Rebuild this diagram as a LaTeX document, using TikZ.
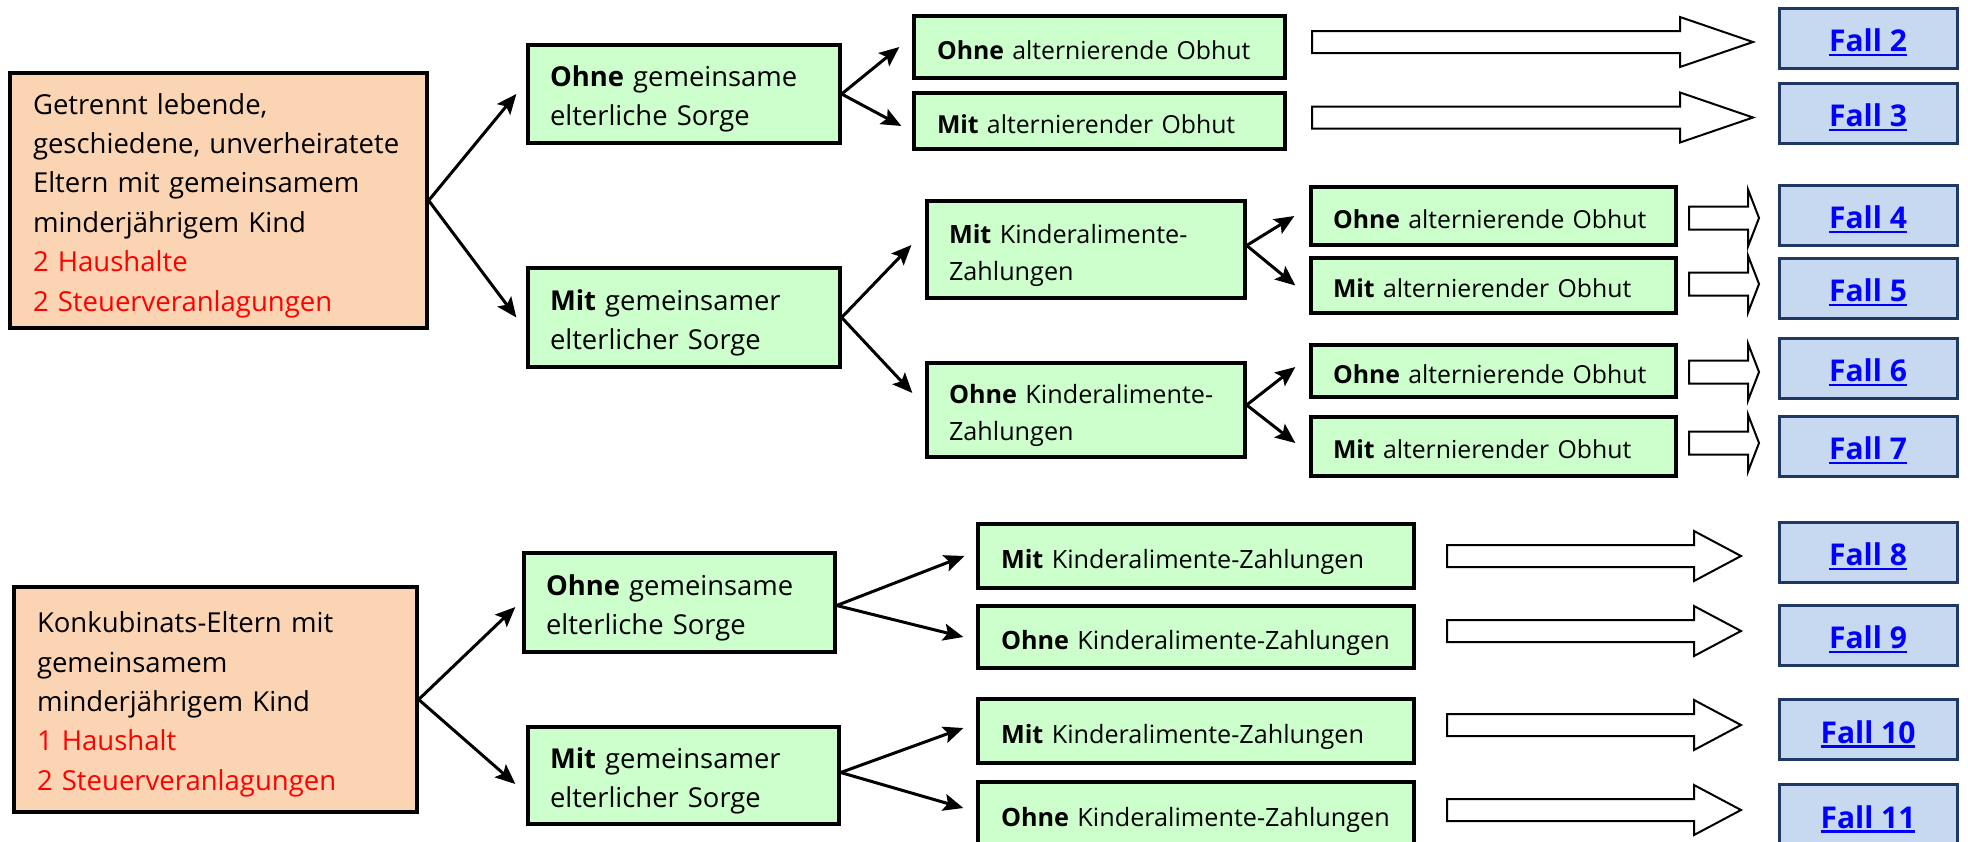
\documentclass[tikz,border=0pt]{standalone}
\usepackage{fontspec}
\setmainfont{Open Sans}
\usetikzlibrary{arrows.meta}
\definecolor{peach}{HTML}{FBD4B4}
\definecolor{mint}{HTML}{CCFFCC}
\definecolor{fallfill}{HTML}{C6D9F1}
\definecolor{fallline}{HTML}{1F3864}
\definecolor{linkblue}{HTML}{0000FF}
\definecolor{redtext}{HTML}{FF0000}
\newcommand\blockarr[6]{%
  \draw[blk] ({#1},{#4-#5}) -- ({#2},{#4-#5}) -- ({#2},{#4-#6}) -- ({#3},{#4})
    -- ({#2},{#4+#6}) -- ({#2},{#4+#5}) -- ({#1},{#4+#5}) -- cycle;}
\newcommand\falltext[1]{\textcolor{linkblue}{\bfseries\setbox0\hbox{Fall~#1}%
  \rlap{\rule[-2.3pt]{\wd0}{1.1pt}}\box0}}
\begin{document}
\begin{tikzpicture}[x=0.5pt,y=-0.5pt,
  vfix/.style 2 args={execute at begin node={\rule{0pt}{#1}},
                      execute at end node={\rule[-#2]{0pt}{#2}}},
  bx/.style n args={3}{draw=black, line width=1.65pt, inner xsep=11pt, inner ysep=0pt,
     align=left, anchor=center, minimum width=#1, minimum height=#2, text width=#3,
     vfix={16pt}{4pt}},
  peachbox/.style={fill=peach, font=\fontsize{13.75}{19.7}\selectfont},
  greenbox/.style={fill=mint, font=\fontsize{13.7}{19.5}\selectfont},
  smallgreen/.style={fill=mint, font=\fontsize{12.4}{18.5}\selectfont},
  fallbox/.style={draw=fallline, line width=1.5pt, fill=fallfill, minimum width=89pt,
     minimum height=30pt, inner sep=0pt, align=center, anchor=center,
     font=\fontsize{15}{18}\selectfont, vfix={17.5pt}{4pt}},
  conn/.style={line width=1.5pt, -{Stealth[length=10pt,width=8.5pt,inset=2pt]}},
  blk/.style={draw=black, line width=1pt, fill=white, line join=miter}]
\useasboundingbox (0,0) rectangle (1968,841);
\clip (0,0) rectangle (1968,841);
\fill[white] (0,0) rectangle (1968,841);

% ---------- upper tree ----------
\node[bx={208.5pt}{127.5pt}{185.5pt}, peachbox, inner xsep=11.5pt] (a1) at (218.5,200.5)
  {Getrennt lebende,\\ geschiedene, unverheiratete\\ Eltern mit gemeinsamem\\ minderjährigem Kind\\
   \textcolor{redtext}{2 Haushalte}\\ \textcolor{redtext}{2 Steuerveranlagungen}};

\node[bx={156pt}{49pt}{134pt}, greenbox] (b1) at (684,94)
  {\textbf{Ohne} gemeinsame\\ elterliche Sorge};
\node[bx={156pt}{49.5pt}{134pt}, greenbox] (b2) at (684,317.5)
  {\textbf{Mit} gemeinsamer\\ elterlicher Sorge};

\node[bx={185.5pt}{31pt}{162.5pt}, smallgreen] (c1) at (1099.5,47)
  {\textbf{Ohne} alternierende Obhut};
\node[bx={185.5pt}{28pt}{162.5pt}, smallgreen] (c2) at (1099.5,121)
  {\textbf{Mit} alternierender Obhut};

\node[bx={159pt}{48.5pt}{137pt}, smallgreen, font=\fontsize{12.6}{18.5}\selectfont] (d1) at (1086,249.5)
  {\textbf{Mit} Kinderalimente-\\ Zahlungen};
\node[bx={159pt}{47pt}{137pt}, smallgreen, font=\fontsize{12.6}{18.5}\selectfont] (d2) at (1086,410)
  {\textbf{Ohne} Kinderalimente-\\ Zahlungen};

\node[bx={182.5pt}{29pt}{160.5pt}, smallgreen] (e1) at (1493.5,216)
  {\textbf{Ohne} alternierende Obhut};
\node[bx={182.5pt}{27.5pt}{160.5pt}, smallgreen] (e2) at (1493.5,285.5)
  {\textbf{Mit} alternierender Obhut};
\node[bx={182.5pt}{26pt}{160.5pt}, smallgreen] (e3) at (1493.5,371)
  {\textbf{Ohne} alternierende Obhut};
\node[bx={182.5pt}{29.5pt}{160.5pt}, smallgreen] (e4) at (1493.5,446.5)
  {\textbf{Mit} alternierender Obhut};

\node[fallbox] (f2) at (1868,38)  {\falltext{2}};
\node[fallbox] (f3) at (1868,113) {\falltext{3}};
\node[fallbox] (f4) at (1868,215) {\falltext{4}};
\node[fallbox] (f5) at (1868,288) {\falltext{5}};
\node[fallbox] (f6) at (1868,368) {\falltext{6}};
\node[fallbox] (f7) at (1868,446) {\falltext{7}};

\draw[conn] (a1.east) -- ([xshift=-5pt]b1.west);
\draw[conn] (a1.east) -- ([xshift=-5pt]b2.west);
\draw[conn] (b1.east) -- ([xshift=-6.5pt]c1.west);
\draw[conn] (b1.east) -- ([xshift=-5.5pt,yshift=-2.5pt]c2.west);
\draw[conn] (b2.east) -- ([xshift=-7pt,yshift=2.25pt]d1.west);
\draw[conn] (b2.east) -- ([xshift=-6.5pt,yshift=8.5pt]d2.west);
\draw[conn] ([yshift=2pt]d1.east) -- ([xshift=-7.5pt]e1.west);
\draw[conn] ([yshift=2pt]d1.east) -- ([xshift=-7pt]e2.west);
\draw[conn] ([yshift=2.5pt]d2.east) -- ([xshift=-7pt,yshift=2pt]e3.west);
\draw[conn] ([yshift=2.5pt]d2.east) -- ([xshift=-7pt,yshift=1.75pt]e4.west);

\blockarr{1312}{1680}{1753}{42}{11}{25}
\blockarr{1312}{1680}{1753}{117.5}{11}{25}
\blockarr{1689}{1748}{1759}{218}{11.5}{28.5}
\blockarr{1689}{1748}{1759}{284}{11.5}{28.5}
\blockarr{1689}{1748}{1759}{372}{11.5}{28.5}
\blockarr{1689}{1748}{1759}{443}{11.5}{28.5}

% ---------- lower tree ----------
\node[bx={201.5pt}{112.5pt}{178.5pt}, peachbox, inner xsep=11.5pt] (a2) at (215.5,699.5)
  {Konkubinats-Eltern mit\\ gemeinsamem\\ minderjährigem Kind\\
   \textcolor{redtext}{1 Haushalt}\\ \textcolor{redtext}{2 Steuerveranlagungen}};

\node[bx={155.5pt}{49.5pt}{133.5pt}, greenbox] (b3) at (679.5,602.5)
  {\textbf{Ohne} gemeinsame\\ elterliche Sorge};
\node[bx={155.5pt}{48.5pt}{133.5pt}, greenbox] (b4) at (683.5,775.5)
  {\textbf{Mit} gemeinsamer\\ elterlicher Sorge};

\node[bx={218pt}{32pt}{195pt}, smallgreen, font=\fontsize{12.6}{18.5}\selectfont] (g1) at (1196,556)
  {\textbf{Mit} Kinderalimente-Zahlungen};
\node[bx={218pt}{31pt}{195pt}, smallgreen, font=\fontsize{12.6}{18.5}\selectfont] (g2) at (1196,637)
  {\textbf{Ohne} Kinderalimente-Zahlungen};
\node[bx={218pt}{32pt}{195pt}, smallgreen, font=\fontsize{12.6}{18.5}\selectfont] (g3) at (1196,731)
  {\textbf{Mit} Kinderalimente-Zahlungen};
\node[bx={218pt}{32pt}{195pt}, smallgreen, font=\fontsize{12.6}{18.5}\selectfont] (g4) at (1196,814)
  {\textbf{Ohne} Kinderalimente-Zahlungen};

\node[fallbox] (f8)  at (1868,552)   {\falltext{8}};
\node[fallbox] (f9)  at (1868,635)   {\falltext{9}};
\node[fallbox] (f10) at (1868,729.5) {\falltext{10}};
\node[fallbox] (f11) at (1868,814.5) {\falltext{11}};

\draw[conn] (a2.east) -- ([xshift=-3.5pt,yshift=-2.25pt]b3.west);
\draw[conn] (a2.east) -- ([xshift=-5.5pt,yshift=-4.25pt]b4.west);
\draw[conn] ([yshift=-1.5pt]b3.east) -- ([xshift=-6pt]g1.west);
\draw[conn] ([yshift=-1.5pt]b3.east) -- ([xshift=-6.5pt]g2.west);
\draw[conn] ([yshift=1.5pt]b4.east) -- ([xshift=-6.5pt,yshift=1.5pt]g3.west);
\draw[conn] ([yshift=1.5pt]b4.east) -- ([xshift=-6.5pt,yshift=3pt]g4.west);

\blockarr{1447}{1694}{1741}{556}{11}{25}
\blockarr{1447}{1694}{1741}{631}{11}{25}
\blockarr{1447}{1694}{1741}{725}{11}{25}
\blockarr{1447}{1694}{1741}{810}{11}{25}
\end{tikzpicture}
\end{document}
